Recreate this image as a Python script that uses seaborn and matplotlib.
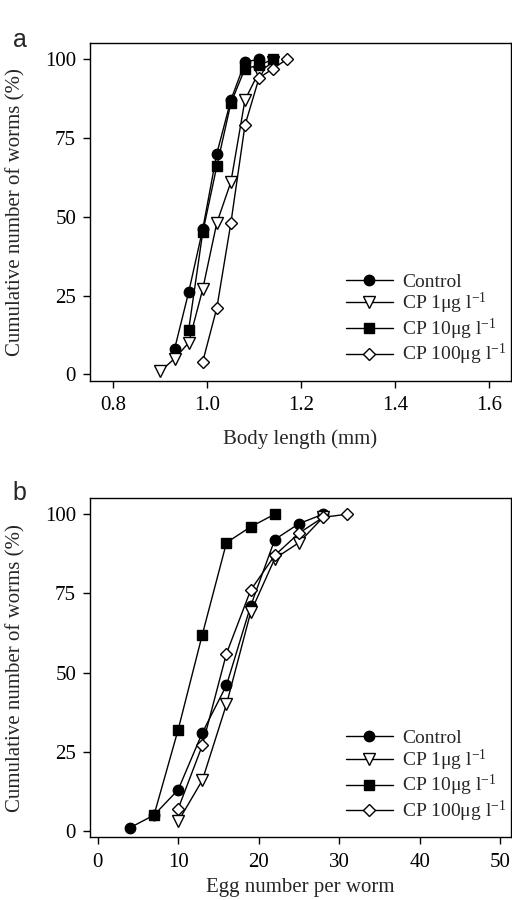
import matplotlib
matplotlib.use("Agg")
import matplotlib.pyplot as plt
import seaborn as sns
import pandas as pd

# ---- data ----
series_names = ["Control", "CP 1\u03bcg l$^{-1}$", "CP 10\u03bcg l$^{-1}$", "CP 100\u03bcg l$^{-1}$"]

# panel a: body length (mm) vs cumulative %
a_ctrl_x = [0.93, 0.96, 0.99, 1.02, 1.05, 1.08, 1.11]
a_ctrl_y = [8, 26, 46, 70, 87, 99, 100]
a_cp1_x = [0.90, 0.93, 0.96, 0.99, 1.02, 1.05, 1.08, 1.11, 1.14]
a_cp1_y = [1, 5, 10, 27, 48, 61, 87, 96, 99]
a_cp10_x = [0.96, 0.99, 1.02, 1.05, 1.08, 1.11, 1.14]
a_cp10_y = [14, 45, 66, 86, 97, 98, 100]
a_cp100_x = [0.99, 1.02, 1.05, 1.08, 1.11, 1.14, 1.17]
a_cp100_y = [4, 21, 48, 79, 94, 97, 100]

# panel b: egg number per worm vs cumulative %
b_ctrl_x = [4, 7, 10, 13, 16, 19, 22, 25, 28]
b_ctrl_y = [1, 5, 13, 31, 46, 71, 92, 97, 100]
b_cp1_x = [10, 13, 16, 19, 22, 25, 28]
b_cp1_y = [3, 16, 40, 69, 86, 91, 99]
b_cp10_x = [7, 10, 13, 16, 19, 22]
b_cp10_y = [5, 32, 62, 91, 96, 100]
b_cp100_x = [10, 13, 16, 19, 22, 25, 28, 31]
b_cp100_y = [7, 27, 56, 76, 87, 94, 99, 100]

a_xticks = [0.8, 1.0, 1.2, 1.4, 1.6]
b_xticks = [0, 10, 20, 30, 40, 50]
yticks = [0, 25, 50, 75, 100]

sns.set_style("ticks")
plt.rcParams['font.family'] = ['Liberation Serif', 'DejaVu Serif']
plt.rcParams['mathtext.fontset'] = 'custom'
plt.rcParams['mathtext.rm'] = 'Liberation Serif'
plt.rcParams['mathtext.it'] = 'Liberation Serif:italic'

styles = [
    dict(marker='o', markerfacecolor='black', markeredgecolor='black', markersize=7.5),
    dict(marker='v', markerfacecolor='white', markeredgecolor='black', markersize=8),
    dict(marker='s', markerfacecolor='black', markeredgecolor='black', markersize=7),
    dict(marker='D', markerfacecolor='white', markeredgecolor='black', markersize=6.5),
]

fig = plt.figure(figsize=(5.12, 9.0), dpi=100)
ax_a = fig.add_axes([0.1758, 0.577, 0.8217, 0.3749])
ax_b = fig.add_axes([0.1758, 0.0697, 0.8217, 0.3766])

def draw(ax, xs, ys):
    for name, x, y, st in zip(series_names, xs, ys, styles):
        df = pd.DataFrame({"x": x, "y": y})
        sns.lineplot(data=df, x="x", y="y", ax=ax, color='black', linewidth=1.0,
                     label=name, markeredgewidth=1.0, sort=False, **st)

draw(ax_a, [a_ctrl_x, a_cp1_x, a_cp10_x, a_cp100_x], [a_ctrl_y, a_cp1_y, a_cp10_y, a_cp100_y])
draw(ax_b, [b_ctrl_x, b_cp1_x, b_cp10_x, b_cp100_x], [b_ctrl_y, b_cp1_y, b_cp10_y, b_cp100_y])

ax_a.set_xlim(0.75, 1.646)
ax_a.set_xticks(a_xticks)
ax_a.set_xticklabels(["0.8", "1.0", "1.2", "1.4", "1.6"])
ax_b.set_xlim(-0.95, 51.3)
ax_b.set_xticks(b_xticks)

for ax, xl, lp in [(ax_a, "Body length (mm)", 10), (ax_b, "Egg number per worm", 5)]:
    ax.set_ylim(-2, 105)
    ax.set_yticks(yticks)
    ax.set_xlabel(xl, fontsize=15, labelpad=lp)
    ax.set_ylabel("Cumulative number of worms (%)", fontsize=15, labelpad=14)
    for s in ax.spines.values():
        s.set_visible(True)
        s.set_color('black')
        s.set_linewidth(1.0)
    ax.tick_params(axis='x', pad=6)
    ax.tick_params(axis='y', pad=5)
    ax.tick_params(axis='both', direction='out', length=5, width=1, labelsize=15,
                   colors='black', top=False, right=False)
    leg = ax.legend(loc='lower right', frameon=False, fontsize=14, handlelength=2.4,
                    handletextpad=0.5, labelspacing=0.02, borderaxespad=0.0,
                    borderpad=0.1, bbox_to_anchor=(0.995, 0.034))

fig.text(0.025, 0.948, "a", fontsize=18, family='Liberation Sans')
fig.text(0.025, 0.444, "b", fontsize=18, family='Liberation Sans')

fig.savefig("out.png", dpi=100)
